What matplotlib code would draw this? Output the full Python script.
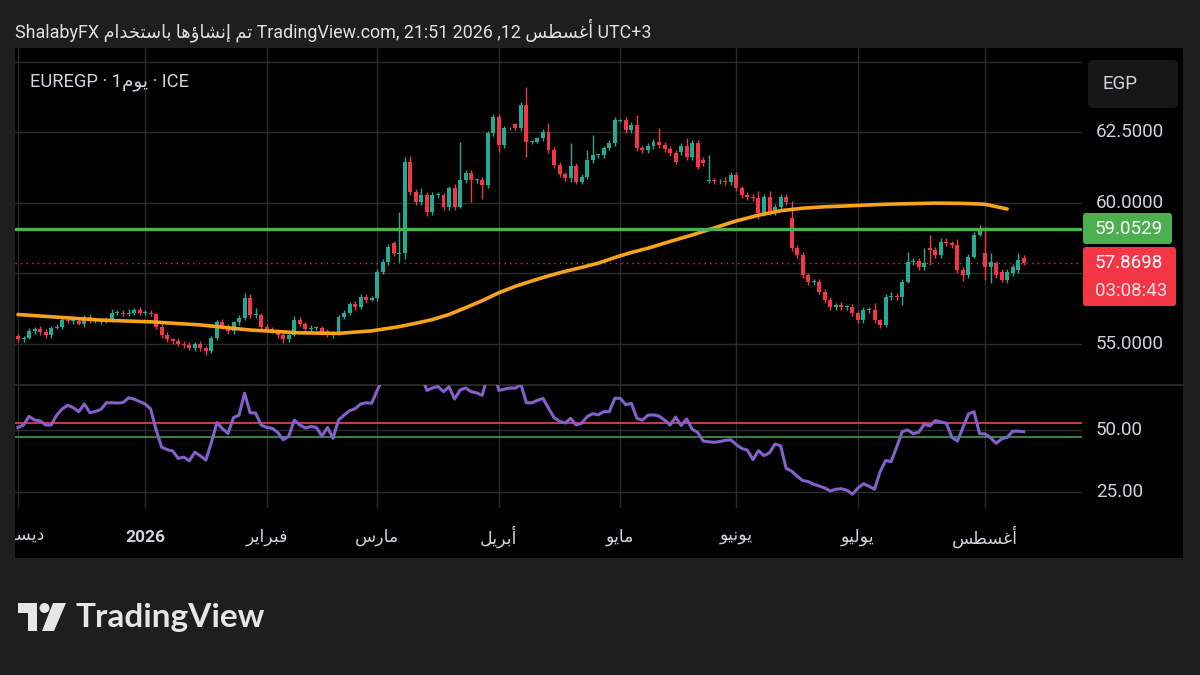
import numpy as np
import matplotlib
matplotlib.use("Agg")
import matplotlib.pyplot as plt
import matplotlib.transforms as mtransforms
from matplotlib.patches import Rectangle, FancyBboxPatch, Polygon, Circle

# ---- data (daily EUR/EGP bars, Dec 2025 - Aug 2026) ----
closes = [
    55.15, 55.2, 55.45, 55.5, 55.4, 55.3, 55.55, 55.6, 55.85, 55.8, 55.8, 55.7, 55.95, 55.8, 55.8, 55.85, 55.8, 56.1, 56.1, 56.05, 56.1, 56.2, 56.1,
    56.1, 56.05, 55.6, 55.3, 55.15, 55.1, 55.0, 54.95, 54.85, 55.0, 54.85, 54.75, 55.2, 55.75, 55.6, 55.45, 55.75, 55.9, 56.6, 56.0, 56.0, 55.6,
    55.5, 55.45, 55.3, 55.15, 55.3, 55.85, 55.7, 55.5, 55.55, 55.55, 55.4, 55.3, 55.4, 55.95, 56.1, 56.4, 56.3, 56.65, 56.55, 56.6,
    57.55, 57.9, 58.43, 58.2, 58.2, 61.45, 60.38, 60.03, 60.27, 59.67, 60.27, 60.27, 59.85, 60.5, 59.85, 60.8, 61.05, 60.8, 60.8, 60.62, 62.45, 63.04,
    62.04, 62.63, 62.63, 62.63, 63.46, 62.16, 62.16, 62.28, 62.51, 61.86, 61.33, 61.0, 60.88, 61.3, 60.74, 60.92, 61.5, 61.68, 61.68, 61.92, 62.1, 62.93,
    62.93, 62.57, 62.75, 61.92, 61.86, 62.0, 62.16, 62.05, 61.9, 61.75, 61.45, 62.0, 61.62, 62.1, 61.27, 61.4, 60.8, 60.75, 60.75, 60.72, 60.98,
    60.5, 60.27, 60.2, 60.15, 59.62, 60.2, 59.67, 59.85, 60.2, 60.03, 58.38, 58.14, 57.43, 57.19, 57.2, 56.84, 56.54, 56.3, 56.35, 56.3, 56.3, 56.07,
    55.83, 56.19, 56.19, 55.83, 55.65, 56.66, 56.7, 56.66, 57.19, 57.9, 57.93, 57.72, 57.84, 58.32, 58.14, 58.61, 58.55, 58.5, 57.6, 57.43, 58.08, 58.85, 59.09,
    57.72, 57.9, 57.43, 57.25, 57.55, 57.72, 57.96, 57.87,
]
# bars open at the previous close except where the chart shows a gap
open_gaps = {0: 55.25, 68: 58.55, 69: 58.18, 90: 62.77, 109: 62.9, 120: 61.8, 124: 61.5, 125: 60.75,
             140: 59.45, 165: 58.4, 175: 58.2, 177: 57.84, 178: 57.55, 180: 57.49, 181: 57.6, 182: 58.02}
upper_wick = [
    0.1, 0.05, 0.1, 0.08, 0.12, 0.1, 0.08, 0.1, 0.05, 0.1, 0.08, 0.1, 0.05, 0.08, 0.1, 0.06, 0.08, 0.12, 0.1, 0.08, 0.12, 0.06, 0.1,
    0.08, 0.1, 0.05, 0.08, 0.1, 0.06, 0.08, 0.1, 0.12, 0.06, 0.1, 0.08, 0.05, 0.1, 0.12, 0.08, 0.06, 0.1, 0.2, 0.15, 0.25, 0.1,
    0.08, 0.1, 0.05, 0.1, 0.08, 0.12, 0.1, 0.08, 0.1, 0.06, 0.08, 0.1, 0.05, 0.06, 0.1, 0.08, 0.12, 0.1, 0.12, 0.1,
    0.08, 0.1, 0.1, 0.1, 1.45, 0.15, 0.2, 0.1, 0.25, 0.1, 0.12, 0.1, 0.08, 0.1, 0.15, 1.35, 0.1, 0.1, 0.05, 0.1, 0.08, 0.1,
    0.1, 0.1, 0.05, 0.05, 0.1, 0.64, 0.05, 0.05, 0.1, 0.3, 0.1, 0.1, 0.1, 0.8, 0.1, 0.1, 0.36, 0.7, 0.05, 0.1, 0.1, 0.1,
    0.05, 0.1, 0.1, 0.35, 0.1, 0.1, 0.1, 0.5, 0.1, 0.1, 0.1, 0.1, 0.3, 0.1, 0.1, 0.1, 0.88, 0.08, 0.1, 0.15, 0.1,
    0.1, 0.08, 0.1, 0.1, 0.25, 0.1, 0.2, 0.1, 0.1, 0.1, 0.59, 0.1, 0.1, 0.08, 0.1, 0.1, 0.08, 0.1, 0.1, 0.12, 0.08, 0.1,
    0.08, 0.1, 0.12, 0.25, 0.05, 0.1, 0.12, 0.1, 0.1, 0.36, 0.1, 0.1, 0.55, 0.45, 0.1, 0.15, 0.12, 0.1, 0.2, 0.1, 0.1, 0.12, 0.1,
    0.94, 0.3, 0.1, 0.1, 0.1, 0.1, 0.24, 0.12,
]
lower_wick = [
    0.1, 0.08, 0.05, 0.1, 0.08, 0.1, 0.12, 0.05, 0.1, 0.08, 0.1, 0.05, 0.1, 0.08, 0.06, 0.1, 0.08, 0.05, 0.1, 0.08, 0.06, 0.1, 0.08,
    0.1, 0.08, 0.1, 0.12, 0.08, 0.1, 0.1, 0.12, 0.08, 0.1, 0.1, 0.15, 0.1, 0.08, 0.1, 0.12, 0.1, 0.1, 0.08, 0.1, 0.1, 0.12,
    0.1, 0.08, 0.1, 0.12, 0.1, 0.05, 0.08, 0.1, 0.1, 0.08, 0.1, 0.08, 0.1, 0.1, 0.08, 0.1, 0.1, 0.08, 0.1, 0.05,
    0.1, 0.1, 0.1, 0.1, 0.3, 0.2, 0.1, 0.1, 0.1, 0.15, 0.1, 0.1, 0.1, 0.1, 0.1, 0.05, 0.1, 0.77, 0.1, 0.5, 0.1, 0.1,
    0.24, 0.1, 0.05, 0.05, 0.1, 0.54, 0.1, 0.05, 0.1, 0.1, 0.1, 0.1, 0.1, 0.14, 0.1, 0.1, 0.1, 0.1, 0.1, 0.1, 0.05, 0.1,
    0.05, 0.1, 0.1, 0.1, 0.1, 0.1, 0.1, 0.1, 0.1, 0.1, 0.1, 0.1, 0.1, 0.1, 0.07, 0.1, 0.05, 0.1, 0.1, 0.1, 0.1,
    0.1, 0.1, 0.1, 0.1, 0.2, 0.1, 0.1, 0.1, 0.1, 0.1, 0.1, 0.1, 0.1, 0.1, 0.1, 0.1, 0.1, 0.1, 0.1, 0.1, 0.1, 0.1,
    0.1, 0.1, 0.1, 0.1, 0.1, 0.05, 0.1, 0.1, 0.3, 0.05, 0.1, 0.1, 0.1, 0.52, 0.1, 0.1, 0.1, 0.1, 0.1, 0.2, 0.1, 0.05, 0.05,
    0.47, 0.59, 0.1, 0.05, 0.1, 0.1, 0.1, 0.1,
]
# orange moving average, read at these bars
ma_idx = [0, 6, 15, 24, 33, 42, 51, 58, 64, 69, 72, 75, 78, 81, 84, 87, 90, 93, 96, 99, 102, 105, 108, 111, 114,
          118, 122, 126, 130, 134, 138, 142, 146, 150, 157, 166, 171, 175, 179]
ma_vals = [56.03, 55.95, 55.83, 55.77, 55.66, 55.48, 55.38, 55.36, 55.45, 55.6, 55.72, 55.85, 56.03, 56.27, 56.52, 56.8,
           57.03, 57.22, 57.4, 57.56, 57.7, 57.85, 58.05, 58.23, 58.38, 58.62, 58.85, 59.1, 59.35, 59.55, 59.71, 59.8,
           59.85, 59.88, 59.94, 59.98, 59.97, 59.94, 59.77]
rsi_vals = [
    51, 52, 55.5, 54, 53.7, 52, 52, 56, 58.5, 60, 59, 57.4, 60.5, 57, 57.5, 58.3, 61, 61, 60.9, 61.1, 63, 62.5, 61.5,
    60.5, 58.5, 50, 43, 42, 41.5, 38.5, 39, 37.5, 41, 39.5, 37.8, 45, 53, 50.5, 48.6, 55, 56, 64.9, 57, 56.8, 52,
    51, 50.7, 49, 46, 47.5, 54, 52, 50.8, 51.4, 51, 47.5, 51, 46.6, 54, 56, 57.8, 58.6, 60.5, 61, 60.8,
    66, 71, 74, 73, 73, 80, 75, 72, 72, 66, 67, 67.6, 65.5, 67.5, 62.5, 66.2, 67, 65.5, 65, 64, 72, 76,
    66, 66.5, 67, 66.9, 68.5, 61, 61, 62, 62.8, 58.8, 55, 53.5, 52.8, 54.7, 52, 52.7, 55.4, 56.6, 56.1, 57.4, 57.4, 62.8,
    62.8, 60.2, 60.8, 54.7, 54, 56, 56.1, 55.6, 54, 52, 55.2, 51.8, 54.5, 50.3, 49, 45.5, 45.2, 45, 45.3, 45.8, 46,
    44, 42.5, 41.8, 38, 41.6, 39.6, 40.8, 44.3, 43.6, 34.5, 33.3, 31.3, 29.5, 29.1, 28, 27.3, 26.5, 25.3, 26, 26.2, 25.6, 24,
    26.5, 28.2, 27.2, 26, 33, 37.6, 37.2, 43, 49.3, 50, 48.5, 49.1, 52.3, 51.6, 53.8, 53.2, 52.7, 47, 45.5, 51, 56.5, 57.4, 48.5,
    48.4, 46.8, 44.6, 46.4, 47, 49.5, 49.5, 49.3,
]
rsi_upper = 53.0
rsi_lower = 47.0
month_idx = [0, 23, 45, 65, 87, 109, 130, 152, 175]
month_names = ["ديسمبر", "2026", "فبراير", "مارس", "أبريل", "مايو", "يونيو", "يوليو", "أغسطس"]
price_grid = [55.0, 57.5, 60.0, 62.5, 65.0]
price_labels = [(55.0, "55.0000"), (60.0, "60.0000"), (62.5, "62.5000")]
rsi_grid = [25, 50]
rsi_labels = [(25, "25.00"), (50, "50.00")]
resistance = 59.0529
last_price = 57.8698
countdown = "03:08:43"

# ---- tiny Arabic shaper: contextual forms + visual (right-to-left) order ----
AR_FORMS = {
    'ا': ('\uFE8D', '\uFE8E', None, None), 'أ': ('\uFE83', '\uFE84', None, None),
    'إ': ('\uFE87', '\uFE88', None, None), 'ب': ('\uFE8F', '\uFE90', '\uFE91', '\uFE92'),
    'ت': ('\uFE95', '\uFE96', '\uFE97', '\uFE98'), 'خ': ('\uFEA5', '\uFEA6', '\uFEA7', '\uFEA8'),
    'د': ('\uFEA9', '\uFEAA', None, None), 'ر': ('\uFEAD', '\uFEAE', None, None),
    'س': ('\uFEB1', '\uFEB2', '\uFEB3', '\uFEB4'), 'ش': ('\uFEB5', '\uFEB6', '\uFEB7', '\uFEB8'),
    'ط': ('\uFEC1', '\uFEC2', '\uFEC3', '\uFEC4'), 'غ': ('\uFECD', '\uFECE', '\uFECF', '\uFED0'),
    'ف': ('\uFED1', '\uFED2', '\uFED3', '\uFED4'), 'ل': ('\uFEDD', '\uFEDE', '\uFEDF', '\uFEE0'),
    'م': ('\uFEE1', '\uFEE2', '\uFEE3', '\uFEE4'), 'ن': ('\uFEE5', '\uFEE6', '\uFEE7', '\uFEE8'),
    'ه': ('\uFEE9', '\uFEEA', '\uFEEB', '\uFEEC'), 'و': ('\uFEED', '\uFEEE', None, None),
    'ؤ': ('\uFE85', '\uFE86', None, None), 'ي': ('\uFEF1', '\uFEF2', '\uFEF3', '\uFEF4'),
}


def ar(text):
    out = []
    for k, ch in enumerate(text):
        if ch not in AR_FORMS:
            out.append(ch)
            continue
        iso, fin, ini, med = AR_FORMS[ch]
        prev = text[k - 1] if k > 0 else ""
        nxt = text[k + 1] if k + 1 < len(text) else ""
        joins_prev = prev in AR_FORMS and AR_FORMS[prev][2] is not None
        joins_next = nxt in AR_FORMS and ini is not None
        if joins_prev and joins_next:
            out.append(med)
        elif joins_prev:
            out.append(fin)
        elif joins_next:
            out.append(ini)
        else:
            out.append(iso)
    return "".join(out)[::-1]


FONT = ['Roboto', 'DejaVu Sans']
TXT = '#d1d4dc'
UP = '#22ab94'
DOWN = '#f23645'
GRID = '#2b2b2b'

closes = np.array(closes)
n = len(closes)
x = np.arange(n)
opens = np.r_[closes[0], closes[:-1]]
for i, v in open_gaps.items():
    opens[i] = v
highs = np.maximum(opens, closes) + np.array(upper_wick)
lows = np.minimum(opens, closes) - np.array(lower_wick)

W, H = 1200, 675
px_bar, x0_px = 5.526, 18.0   # bar spacing / first bar position in pixels


def box(x0, y0, x1, y1):
    return [x0 / W, 1 - y1 / H, (x1 - x0) / W, (y1 - y0) / H]


def bar_lim(p0, p1):
    return ((p0 - x0_px) / px_bar, (p1 - x0_px) / px_bar)


fig = plt.figure(figsize=(12, 6.75), dpi=100, facecolor='#1e1e1e')

bg = fig.add_axes([0, 0, 1, 1], zorder=0)
bg.set_xlim(0, W)
bg.set_ylim(H, 0)
bg.axis('off')
bg.add_patch(Rectangle((15, 48), 1168, 510, facecolor='#000000', edgecolor='none'))
bg.plot([15, 1183], [385, 385], color='#2e2e2e', lw=1.2)

# ---- price pane ----
ax = fig.add_axes(box(15, 48, 1082, 385), zorder=1)
ax.set_facecolor('none')
ax.set_xlim(*bar_lim(15, 1082))
ax.set_ylim(53.53, 65.48)
for v in price_grid:
    ax.axhline(v, color=GRID, lw=1, zorder=0)
for m in month_idx:
    ax.axvline(m, color=GRID, lw=1, zorder=0)

colors = np.where(closes >= opens, UP, DOWN)
ax.vlines(x, lows, highs, colors=colors, lw=1, zorder=2)
body = np.maximum(np.abs(closes - opens), 0.03)
ax.bar(x, body, bottom=np.minimum(opens, closes), width=0.72, color=colors, zorder=3)

ax.plot(ma_idx, ma_vals, color='#f7a21b', lw=2.6, zorder=4, solid_capstyle='round', solid_joinstyle='round')
ax.axhline(resistance, color='#4caf50', lw=2.4, zorder=4)
ax.axhline(last_price, color=DOWN, lw=1, ls=(0, (1, 3)), alpha=0.9, zorder=1)

for s in ax.spines.values():
    s.set_visible(False)
ax.set_xticks([])
ax.set_yticks([])

lab_tr = mtransforms.blended_transform_factory(ax.transAxes, ax.transData)
x_lab = (1096 - 15) / 1067
for v, s in price_labels:
    ax.text(x_lab, v, s, transform=lab_tr, ha='left', va='center', color=TXT,
            fontsize=13.5, family=FONT, clip_on=False)

# ---- RSI pane ----
rax = fig.add_axes(box(15, 385, 1082, 508), zorder=1)
rax.set_facecolor('none')
rax.set_xlim(*bar_lim(15, 1082))
rax.set_ylim(18.4, 68.2)
for v in rsi_grid:
    rax.axhline(v, color=GRID, lw=1, zorder=0)
for m in month_idx:
    rax.axvline(m, color=GRID, lw=1, zorder=0)
rax.axhline(rsi_upper, color='#d9414f', lw=1.3, zorder=1)
rax.axhline(rsi_lower, color='#3f8f43', lw=1.3, zorder=1)
rax.plot(x, rsi_vals, color='#8460cc', lw=2.2, zorder=3)
for s in rax.spines.values():
    s.set_visible(False)
rax.set_xticks([])
rax.set_yticks([])
rlab_tr = mtransforms.blended_transform_factory(rax.transAxes, rax.transData)
for v, s in rsi_labels:
    rax.text(x_lab, v, s, transform=rlab_tr, ha='left', va='center', color=TXT,
             fontsize=13.5, family=FONT, clip_on=False)

# ---- time axis (December label is cut at the panel edge, as on the chart) ----
tax = fig.add_axes(box(15, 508, 1183, 558), zorder=1)
tax.set_xlim(*bar_lim(15, 1183))
tax.set_ylim(0, 1)
tax.axis('off')
for m, name in zip(month_idx, month_names):
    is_year = name.isdigit()
    tax.text(m, 0.42, name if is_year else ar(name), ha='center', va='center', color=TXT,
             fontsize=12.5, family=FONT, fontweight='bold' if is_year else 'normal', clip_on=True)

# ---- overlay: header, legend, price badges, logo ----
ov = fig.add_axes([0, 0, 1, 1], zorder=5)
ov.set_xlim(0, W)
ov.set_ylim(H, 0)
ov.axis('off')

header = ("ShalabyFX " + ar("تم إنشاؤها باستخدام") + " TradingView.com, 21:51 2026 ,12 "
          + ar("أغسطس") + " UTC+3")
ov.text(15, 30, header, ha='left', va='center', color='#e0e0e0', fontsize=12.9, family=FONT)
ov.text(30, 82, "EUREGP · 1" + ar("يوم") + " · ICE", ha='left', va='center', color=TXT,
        fontsize=13.2, family=FONT)

ov.add_patch(FancyBboxPatch((1088, 60), 90, 48, boxstyle='round,pad=0,rounding_size=5',
                            facecolor='#171717', edgecolor='none'))
ov.text(1102, 84, "EGP", ha='left', va='center', color=TXT, fontsize=13.5, family=FONT)

ov.add_patch(FancyBboxPatch((1083, 213), 89, 31, boxstyle='round,pad=0,rounding_size=3',
                            facecolor='#4caf50', edgecolor='none'))
ov.text(1095, 229, f"{resistance:.4f}", ha='left', va='center', color='#ffffff', fontsize=13.5, family=FONT)
ov.add_patch(FancyBboxPatch((1083, 247), 93, 59, boxstyle='round,pad=0,rounding_size=3',
                            facecolor=DOWN, edgecolor='none'))
ov.text(1095, 263, f"{last_price:.4f}", ha='left', va='center', color='#ffffff', fontsize=13.5, family=FONT)
ov.text(1095, 291, countdown, ha='left', va='center', color='#ffe3e5', fontsize=13.5, family=FONT)

logo = '#e6e6e6'
ov.add_patch(Polygon([(18, 603), (37, 603), (37, 631), (28, 631), (28, 613), (18, 613)],
                     closed=True, facecolor=logo, edgecolor='none'))
ov.add_patch(Circle((44.5, 608), 5, facecolor=logo, edgecolor='none'))
ov.add_patch(Polygon([(53, 603), (66, 603), (54, 631), (42, 631)], closed=True,
                     facecolor=logo, edgecolor='none'))
ov.text(76, 617, "TradingView", ha='left', va='center', color=logo, fontsize=24,
        family=['Lato', 'DejaVu Sans'], fontweight='bold')

fig.savefig('out.png', dpi=100, facecolor=fig.get_facecolor())
